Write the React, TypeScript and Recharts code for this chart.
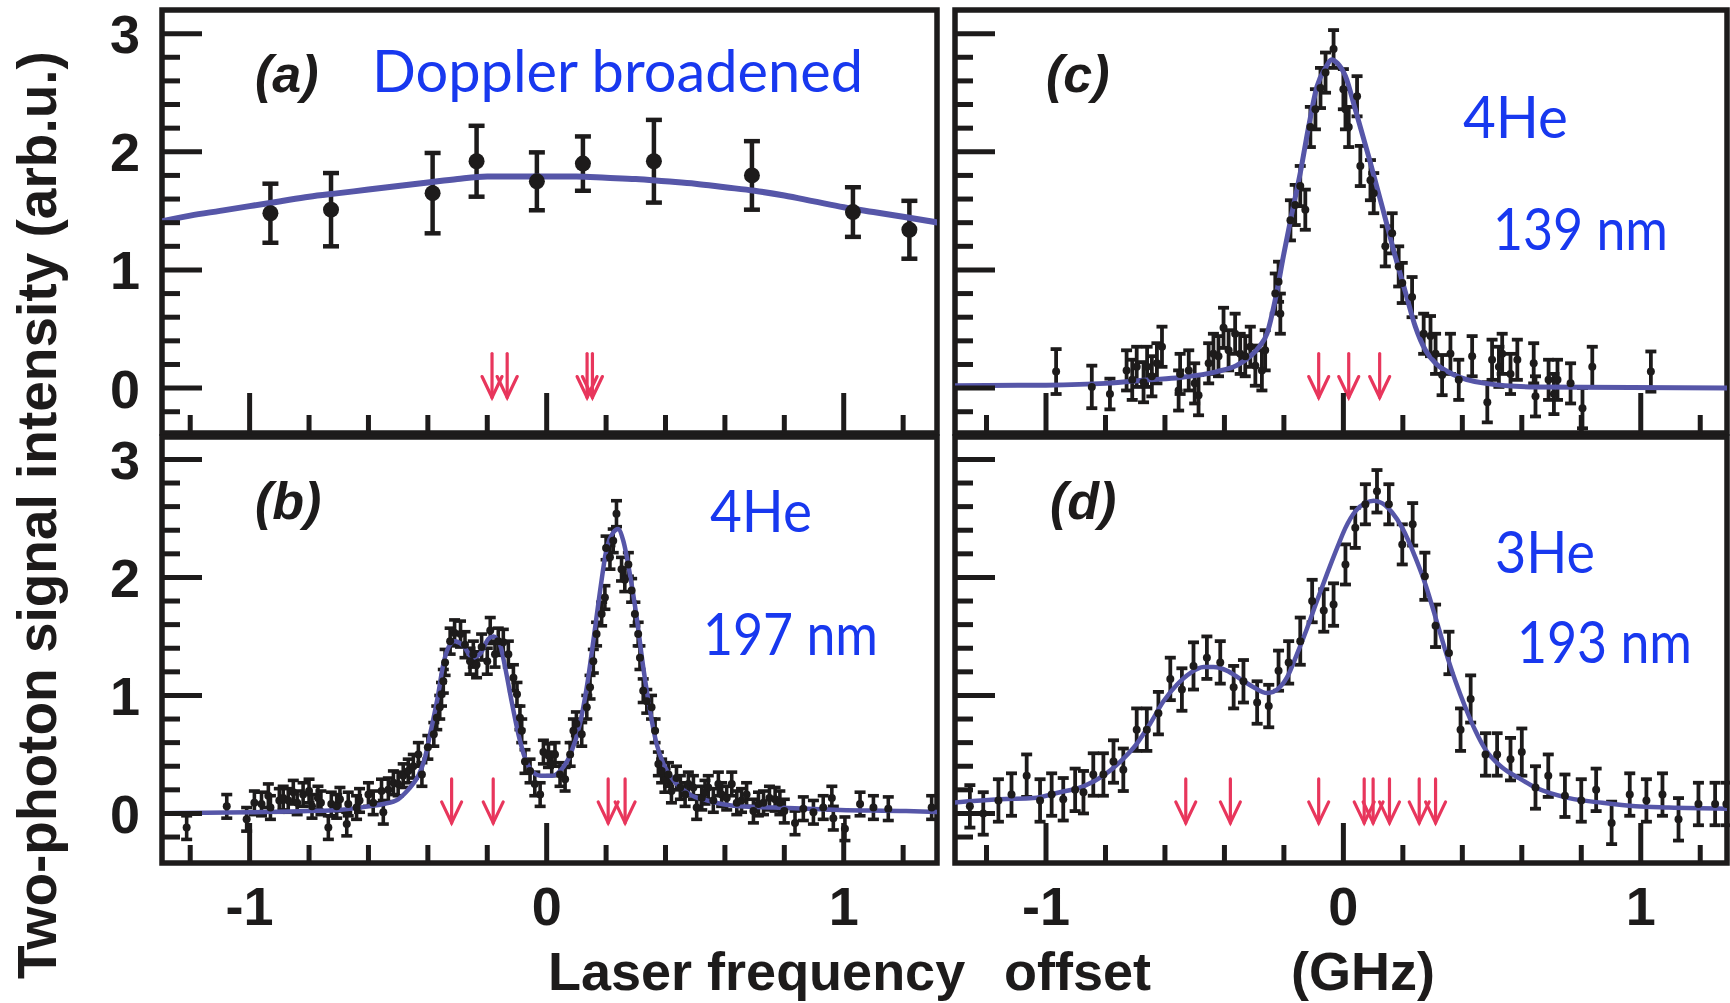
import React from 'react';
import { ComposedChart, Scatter, Line, XAxis, YAxis, ErrorBar, ReferenceArea } from 'recharts';

// ---------- styling constants ----------
const INK = '#1d1b1b';
const FIT = '#5656a8';
const ARROW = '#e8365c';
const BLUE = '#1838ef';
const SANS = '"Liberation Sans", Arial, Helvetica, sans-serif';
const HUMAN = 'Lato, "Open Sans", sans-serif';

// ---------- axes ----------
const xTickValues = [-1.2, -1, -0.8, -0.6, -0.4, -0.2, 0, 0.2, 0.4, 0.6, 0.8, 1, 1.2];
const xTickLabels = ['-1', '0', '1'];
const yTickValues = [-0.2, 0, 0.2, 0.4, 0.6, 0.8, 1, 1.2, 1.4, 1.6, 1.8, 2, 2.2, 2.4, 2.6, 2.8, 3];
const yTickLabels = ['0', '1', '2', '3'];
const ARROW_TIP = -0.08;

// ---------- panel (a): Doppler broadened ----------
const pointsA: [number, number, number][] = [
  [-0.93, 1.48, 0.25], [-0.726, 1.51, 0.31], [-0.384, 1.65, 0.34], [-0.236, 1.92, 0.3],
  [-0.033, 1.75, 0.245], [0.122, 1.9, 0.23], [0.361, 1.92, 0.35], [0.691, 1.8, 0.29],
  [1.031, 1.49, 0.21], [1.221, 1.34, 0.245],
];
const fitA: [number, number][] = [
  [-1.3, 1.41], [-1.2, 1.46], [-1.1, 1.5], [-1.0, 1.54], [-0.9, 1.58], [-0.8, 1.62], [-0.7, 1.65],
  [-0.6, 1.68], [-0.5, 1.71], [-0.4, 1.74], [-0.3, 1.77], [-0.2, 1.79], [-0.1, 1.79], [0, 1.79],
  [0.1, 1.79], [0.2, 1.78], [0.3, 1.77], [0.4, 1.75], [0.5, 1.73], [0.6, 1.7], [0.7, 1.67],
  [0.8, 1.63], [0.9, 1.58], [1.0, 1.53], [1.1, 1.49], [1.2, 1.45], [1.32, 1.4],
];
const arrowsA = [-0.184, -0.133, 0.136, 0.154];

// ---------- panel (b): 4He 197 nm ----------
const pointsB: [number, number, number][] = [
  [-1.212, -0.12, 0.1], [-1.077, 0.06, 0.1], [-1.01, -0.05, 0.1], [-0.984, 0.09, 0.1], [-0.96, 0.08, 0.1],
  [-0.937, 0.15, 0.1], [-0.93, 0.05, 0.1], [-0.9, 0.11, 0.1], [-0.887, 0.13, 0.1], [-0.87, 0.11, 0.1],
  [-0.853, 0.18, 0.1], [-0.84, 0.09, 0.1], [-0.82, 0.16, 0.1], [-0.8, 0.19, 0.1], [-0.79, 0.06, 0.1],
  [-0.77, 0.13, 0.1], [-0.76, 0.09, 0.1], [-0.735, -0.12, 0.1], [-0.725, 0.08, 0.1], [-0.707, 0.06, 0.1],
  [-0.696, 0.12, 0.1], [-0.673, -0.09, 0.1], [-0.668, 0.08, 0.1], [-0.64, 0.05, 0.1], [-0.63, 0.11, 0.1],
  [-0.6, 0.16, 0.1], [-0.584, 0.09, 0.1], [-0.556, 0.19, 0.1], [-0.55, 0.01, 0.1], [-0.533, 0.2, 0.1],
  [-0.516, 0.26, 0.1], [-0.5, 0.25, 0.1], [-0.483, 0.32, 0.1], [-0.466, 0.36, 0.1], [-0.449, 0.4, 0.1],
  [-0.432, 0.5, 0.1], [-0.42, 0.33, 0.1], [-0.4, 0.56, 0.1], [-0.38, 0.67, 0.1], [-0.37, 0.81, 0.1],
  [-0.36, 0.9, 0.1], [-0.354, 1.01, 0.1], [-0.348, 1.12, 0.1], [-0.342, 1.28, 0.11], [-0.325, 1.46, 0.11],
  [-0.31, 1.53, 0.11], [-0.29, 1.52, 0.11], [-0.275, 1.43, 0.11], [-0.258, 1.29, 0.11], [-0.247, 1.35, 0.11],
  [-0.236, 1.26, 0.11], [-0.219, 1.41, 0.11], [-0.2, 1.29, 0.11], [-0.19, 1.55, 0.11], [-0.174, 1.35, 0.11],
  [-0.163, 1.46, 0.11], [-0.146, 1.45, 0.11], [-0.129, 1.35, 0.11], [-0.112, 1.15, 0.11], [-0.1, 1.01, 0.1],
  [-0.09, 0.81, 0.1], [-0.084, 0.7, 0.1], [-0.073, 0.44, 0.1], [-0.056, 0.36, 0.1], [-0.04, 0.25, 0.1],
  [-0.022, 0.16, 0.1], [-0.011, 0.52, 0.1], [0.006, 0.49, 0.1], [0.017, 0.42, 0.1], [0.028, 0.5, 0.1],
  [0.045, 0.33, 0.1], [0.062, 0.29, 0.1], [0.079, 0.5, 0.1], [0.09, 0.7, 0.1], [0.1, 0.76, 0.1],
  [0.118, 0.67, 0.1], [0.135, 0.9, 0.1], [0.146, 1.07, 0.1], [0.157, 1.29, 0.1], [0.168, 1.52, 0.1],
  [0.185, 1.69, 0.1], [0.196, 1.83, 0.1], [0.2, 2.25, 0.1], [0.213, 2.17, 0.1], [0.224, 2.31, 0.1],
  [0.235, 2.54, 0.11], [0.252, 2.07, 0.1], [0.263, 1.98, 0.1], [0.275, 2.11, 0.1], [0.286, 1.89, 0.1],
  [0.297, 1.69, 0.1], [0.308, 1.52, 0.1], [0.314, 1.32, 0.1], [0.325, 1.04, 0.1], [0.337, 0.95, 0.1],
  [0.353, 0.9, 0.1], [0.365, 0.7, 0.1], [0.376, 0.42, 0.1], [0.387, 0.36, 0.1], [0.398, 0.28, 0.1],
  [0.41, 0.33, 0.1], [0.42, 0.19, 0.1], [0.437, 0.3, 0.1], [0.45, 0.22, 0.1], [0.466, 0.16, 0.1],
  [0.477, 0.25, 0.1], [0.494, 0.22, 0.1], [0.505, 0.05, 0.1], [0.522, 0.13, 0.1], [0.533, 0.18, 0.1],
  [0.544, 0.22, 0.1], [0.561, 0.11, 0.1], [0.578, 0.25, 0.1], [0.589, 0.16, 0.1], [0.606, 0.13, 0.1],
  [0.623, 0.25, 0.1], [0.64, 0.09, 0.1], [0.656, 0.11, 0.1], [0.673, 0.16, 0.1], [0.696, 0.02, 0.1],
  [0.713, 0.08, 0.1], [0.73, 0.09, 0.1], [0.75, 0.13, 0.1], [0.769, 0.12, 0.1], [0.785, 0.09, 0.1],
  [0.8, 0.02, 0.1], [0.836, -0.08, 0.1], [0.864, 0.04, 0.1], [0.898, 0.01, 0.1], [0.931, 0.05, 0.1],
  [0.96, 0.13, 0.1], [0.965, -0.04, 0.1], [1.004, -0.13, 0.1], [1.055, 0.08, 0.1], [1.1, 0.05, 0.1],
  [1.15, 0.04, 0.1], [1.296, 0.05, 0.1],
];
const fitB: [number, number][] = [
  [-1.32, 0.0], [-1.0, 0.01], [-0.8, 0.02], [-0.7, 0.03], [-0.6, 0.06], [-0.55, 0.08], [-0.5, 0.12],
  [-0.47, 0.19], [-0.45, 0.25], [-0.43, 0.33], [-0.41, 0.47], [-0.39, 0.7], [-0.365, 1.01], [-0.35, 1.24],
  [-0.33, 1.41], [-0.31, 1.46], [-0.28, 1.42], [-0.25, 1.32], [-0.225, 1.35], [-0.196, 1.48], [-0.18, 1.5],
  [-0.157, 1.43], [-0.14, 1.24], [-0.118, 0.95], [-0.095, 0.67], [-0.073, 0.47], [-0.05, 0.36], [-0.02, 0.32],
  [0.02, 0.32], [0.045, 0.36], [0.08, 0.5], [0.112, 0.76], [0.135, 1.07], [0.157, 1.46], [0.18, 1.89],
  [0.2, 2.22], [0.224, 2.38], [0.24, 2.41], [0.258, 2.31], [0.28, 2.03], [0.303, 1.66], [0.325, 1.24],
  [0.348, 0.87], [0.37, 0.59], [0.393, 0.42], [0.427, 0.28], [0.483, 0.16], [0.539, 0.11], [0.65, 0.06],
  [0.763, 0.05], [0.988, 0.03], [1.21, 0.02], [1.33, 0.01],
];
const arrowsB = [-0.32, -0.18, 0.207, 0.264];

// ---------- panel (c): 4He 139 nm ----------
const pointsC: [number, number, number][] = [
  [-0.966, 0.14, 0.19], [-0.846, 0.01, 0.18], [-0.785, -0.05, 0.13], [-0.729, 0.15, 0.17], [-0.71, 0.07, 0.17],
  [-0.695, 0.18, 0.17], [-0.672, 0.05, 0.17], [-0.66, 0.18, 0.17], [-0.644, 0.1, 0.17], [-0.627, 0.21, 0.17],
  [-0.61, 0.35, 0.17], [-0.554, -0.02, 0.17], [-0.549, 0.12, 0.17], [-0.52, 0.15, 0.17], [-0.5, 0.04, 0.17],
  [-0.487, -0.06, 0.17], [-0.453, 0.21, 0.17], [-0.437, 0.29, 0.17], [-0.42, 0.27, 0.17], [-0.403, 0.51, 0.17],
  [-0.386, 0.32, 0.17], [-0.364, 0.46, 0.17], [-0.347, 0.29, 0.17], [-0.33, 0.27, 0.17], [-0.313, 0.35, 0.17],
  [-0.296, 0.19, 0.17], [-0.274, 0.15, 0.17], [-0.263, 0.32, 0.17], [-0.229, 0.8, 0.17], [-0.218, 0.9, 0.17],
  [-0.212, 0.63, 0.17], [-0.178, 1.42, 0.17], [-0.162, 1.55, 0.17], [-0.145, 1.71, 0.17], [-0.128, 1.51, 0.17],
  [-0.111, 2.21, 0.17], [-0.094, 2.36, 0.17], [-0.077, 2.54, 0.17], [-0.06, 2.67, 0.17], [-0.033, 2.87, 0.16],
  [0.0, 2.53, 0.17], [0.007, 2.36, 0.17], [0.018, 2.21, 0.17], [0.046, 2.47, 0.17], [0.057, 1.88, 0.17],
  [0.091, 1.76, 0.17], [0.102, 1.65, 0.17], [0.141, 1.2, 0.17], [0.164, 1.31, 0.17], [0.186, 1.03, 0.17],
  [0.198, 0.89, 0.17], [0.231, 0.77, 0.17], [0.27, 0.46, 0.17], [0.293, 0.44, 0.17], [0.31, 0.29, 0.17],
  [0.332, 0.11, 0.17], [0.36, 0.29, 0.17], [0.388, 0.07, 0.17], [0.433, 0.27, 0.17], [0.484, -0.12, 0.17],
  [0.5, 0.24, 0.17], [0.523, 0.18, 0.17], [0.534, 0.29, 0.17], [0.562, 0.12, 0.17], [0.585, 0.24, 0.17],
  [0.64, 0.21, 0.17], [0.646, -0.07, 0.17], [0.69, 0.07, 0.17], [0.708, -0.05, 0.17], [0.72, 0.07, 0.17],
  [0.764, 0.04, 0.17], [0.804, -0.17, 0.17], [0.837, 0.18, 0.17], [1.034, 0.14, 0.17],
];
const fitC: [number, number][] = [
  [-1.32, 0.02], [-1.0, 0.025], [-0.8, 0.04], [-0.65, 0.07], [-0.55, 0.09], [-0.425, 0.14], [-0.36, 0.19],
  [-0.313, 0.27], [-0.28, 0.36], [-0.257, 0.46], [-0.229, 0.75], [-0.2, 1.14], [-0.173, 1.48], [-0.145, 1.82],
  [-0.117, 2.21], [-0.089, 2.55], [-0.06, 2.71], [-0.04, 2.78], [-0.02, 2.75], [0.007, 2.64], [0.04, 2.36],
  [0.085, 1.96], [0.13, 1.54], [0.175, 1.11], [0.21, 0.8], [0.242, 0.52], [0.276, 0.32], [0.31, 0.21],
  [0.366, 0.12], [0.478, 0.04], [0.646, 0.01], [1.3, 0.0],
];
const arrowsC = [-0.083, 0.018, 0.122];

// ---------- panel (d): 3He 193 nm ----------
const pointsD: [number, number, number][] = [
  [-1.256, 0.06, 0.18], [-1.211, 0.0, 0.18], [-1.16, 0.11, 0.18], [-1.116, 0.16, 0.18], [-1.065, 0.32, 0.18],
  [-1.02, 0.11, 0.18], [-0.981, 0.16, 0.18], [-0.942, 0.12, 0.18], [-0.902, 0.2, 0.18], [-0.874, 0.18, 0.18],
  [-0.841, 0.33, 0.18], [-0.807, 0.33, 0.18], [-0.773, 0.44, 0.18], [-0.74, 0.37, 0.18], [-0.695, 0.71, 0.18],
  [-0.661, 0.71, 0.18], [-0.622, 0.85, 0.18], [-0.582, 1.14, 0.18], [-0.543, 1.05, 0.18], [-0.504, 1.25, 0.2],
  [-0.459, 1.32, 0.18], [-0.414, 1.28, 0.18], [-0.369, 1.07, 0.18], [-0.336, 1.12, 0.18], [-0.29, 0.94, 0.18],
  [-0.251, 0.91, 0.18], [-0.218, 1.21, 0.17], [-0.184, 1.28, 0.18], [-0.145, 1.46, 0.2], [-0.105, 1.8, 0.18],
  [-0.066, 1.72, 0.18], [-0.033, 1.77, 0.18], [0.007, 2.11, 0.17], [0.04, 2.42, 0.17], [0.074, 2.62, 0.17],
  [0.113, 2.73, 0.18], [0.153, 2.62, 0.17], [0.198, 2.28, 0.17], [0.233, 2.45, 0.18], [0.274, 2.01, 0.2],
  [0.31, 1.59, 0.18], [0.355, 1.36, 0.18], [0.394, 0.71, 0.18], [0.428, 0.97, 0.2], [0.478, 0.5, 0.18],
  [0.517, 0.5, 0.18], [0.562, 0.46, 0.18], [0.6, 0.52, 0.2], [0.646, 0.22, 0.18], [0.689, 0.32, 0.18],
  [0.745, 0.15, 0.18], [0.8, 0.11, 0.18], [0.85, 0.2, 0.18], [0.902, -0.08, 0.18], [0.963, 0.16, 0.18],
  [1.019, 0.11, 0.18], [1.073, 0.16, 0.18], [1.127, -0.05, 0.18], [1.194, 0.08, 0.18], [1.25, 0.08, 0.18],
  [1.288, 0.08, 0.18],
];
const fitD: [number, number][] = [
  [-1.32, 0.09], [-1.155, 0.12], [-1.043, 0.13], [-0.953, 0.18], [-0.874, 0.23], [-0.807, 0.32], [-0.75, 0.44],
  [-0.695, 0.59], [-0.65, 0.76], [-0.605, 0.95], [-0.56, 1.09], [-0.515, 1.19], [-0.47, 1.24], [-0.437, 1.24],
  [-0.392, 1.21], [-0.347, 1.14], [-0.302, 1.07], [-0.257, 1.02], [-0.223, 1.05], [-0.19, 1.15], [-0.156, 1.35],
  [-0.122, 1.57], [-0.089, 1.8], [-0.055, 2.03], [-0.021, 2.25], [0.007, 2.42], [0.04, 2.56], [0.074, 2.63],
  [0.102, 2.65], [0.13, 2.63], [0.164, 2.55], [0.198, 2.42], [0.242, 2.17], [0.276, 1.94], [0.31, 1.66],
  [0.343, 1.38], [0.377, 1.12], [0.41, 0.9], [0.444, 0.7], [0.478, 0.54], [0.534, 0.39], [0.59, 0.3],
  [0.646, 0.22], [0.759, 0.13], [0.871, 0.09], [0.983, 0.06], [1.095, 0.05], [1.3, 0.04],
];
const arrowsD = [-0.53, -0.38, -0.083, 0.07, 0.1, 0.155, 0.255, 0.31];

// ---------- tick renderers ----------
const isMajor = (v: number) => Math.abs(v - Math.round(v)) < 1e-6;

function makeYTick(showLabels: boolean) {
  return (props: any) => {
    const { x, y, payload } = props;
    const v = payload.value as number;
    const major = isMajor(v);
    const len = major ? 40 : 18;
    return (
      <g>
        <line x1={x} y1={y} x2={x + len} y2={y} stroke={INK} strokeWidth={5} />
        {showLabels && major && v >= 0 ? (
          <text x={x - 22} y={y} dy="0.36em" textAnchor="end" fontFamily={SANS} fontWeight="bold" fontSize={54} fill={INK}>
            {yTickLabels[Math.round(v)]}
          </text>
        ) : null}
      </g>
    );
  };
}

function makeXTick(showLabels: boolean) {
  return (props: any) => {
    const { x, y, payload } = props;
    const v = payload.value as number;
    const major = isMajor(v);
    const len = major ? 40 : 18;
    return (
      <g>
        <line x1={x} y1={y} x2={x} y2={y - len} stroke={INK} strokeWidth={5} />
        {showLabels && major ? (
          <text x={x} y={y + 62} textAnchor="middle" fontFamily={SANS} fontWeight="bold" fontSize={54} fill={INK}>
            {xTickLabels[Math.round(v) + 1]}
          </text>
        ) : null}
      </g>
    );
  };
}

const dotShape = (r: number) => (p: any) => <circle cx={p.cx} cy={p.cy} r={r} fill={INK} />;

const arrowShape = (p: any) => {
  const { cx, cy } = p;
  return (
    <g stroke={ARROW} strokeWidth={3.2} fill="none" strokeLinecap="round" strokeLinejoin="miter">
      <line x1={cx} y1={cy - 44} x2={cx} y2={cy} />
      <polyline points={`${cx - 10},${cy - 21} ${cx},${cy} ${cx + 10},${cy - 21}`} />
    </g>
  );
};

type PanelProps = {
  left: number; top: number; width: number; height: number;
  margin: { top: number; right: number; bottom: number; left: number };
  yAxisWidth: number; xAxisHeight: number;
  xDomain: [number, number]; yDomain: [number, number];
  points: [number, number, number][]; fit: [number, number][]; arrows: number[];
  dotR: number; capW: number; barW: number; fitW: number;
  showXLabels: boolean; showYLabels: boolean;
};

function Panel(p: PanelProps) {
  const pts = p.points.map(([x, y, e]) => ({ x, y, e }));
  const fit = p.fit.map(([x, y]) => ({ x, y }));
  const arr = p.arrows.map((x) => ({ x, y: ARROW_TIP }));
  return (
    <div style={{ position: 'absolute', left: p.left, top: p.top }}>
      <ComposedChart width={p.width} height={p.height} margin={p.margin}>
        <XAxis
          type="number" dataKey="x" domain={p.xDomain} allowDataOverflow ticks={xTickValues} interval={0}
          tickSize={0} tickMargin={0} axisLine={false} tickLine={false} height={p.xAxisHeight}
          tick={makeXTick(p.showXLabels)}
        />
        <YAxis
          type="number" domain={p.yDomain} allowDataOverflow ticks={yTickValues} interval={0}
          tickSize={0} tickMargin={0} axisLine={false} tickLine={false} width={p.yAxisWidth}
          tick={makeYTick(p.showYLabels)}
        />
        <ReferenceArea
          x1={p.xDomain[0]} x2={p.xDomain[1]} y1={p.yDomain[0]} y2={p.yDomain[1]}
          fill="none" fillOpacity={0} stroke={INK} strokeWidth={5.5}
        />
        <Scatter data={pts} dataKey="y" shape={dotShape(p.dotR)} isAnimationActive={false}>
          <ErrorBar dataKey="e" direction="y" width={p.capW} strokeWidth={p.barW} stroke={INK} />
        </Scatter>
        <Line
          data={fit} dataKey="y" type="monotone" stroke={FIT} strokeWidth={p.fitW}
          dot={false} activeDot={false} isAnimationActive={false}
        />
        <Scatter data={arr} dataKey="y" shape={arrowShape} isAnimationActive={false} />
      </ComposedChart>
    </div>
  );
}

const blueText = { fontFamily: HUMAN, fontSize: 58, fill: BLUE } as const;
const panelLabel = { fontFamily: SANS, fontSize: 52, fontWeight: 'bold', fontStyle: 'italic', fill: INK } as const;
const axisTitle = { fontFamily: SANS, fontSize: 54, fontWeight: 'bold', fill: INK } as const;

export default function App() {
  return (
    <div style={{ position: 'absolute', left: 0, top: 0, width: 1730, height: 1003, background: '#fff', overflow: 'hidden' }}>
      <Panel
        left={0} top={0} width={945} height={440} margin={{ top: 10, right: 8, bottom: 0, left: 0 }}
        yAxisWidth={162} xAxisHeight={7} xDomain={[-1.295, 1.314]} yDomain={[-0.38, 3.2]}
        points={pointsA} fit={fitA} arrows={arrowsA} dotR={8} capW={8} barW={4.5} fitW={6}
        showXLabels={false} showYLabels={true}
      />
      <Panel
        left={945} top={0} width={785} height={440} margin={{ top: 10, right: 3, bottom: 0, left: 0 }}
        yAxisWidth={10} xAxisHeight={7} xDomain={[-1.306, 1.29]} yDomain={[-0.38, 3.2]}
        points={pointsC} fit={fitC} arrows={arrowsC} dotR={4} capW={5.5} barW={3.8} fitW={5}
        showXLabels={false} showYLabels={false}
      />
      <Panel
        left={0} top={430} width={945} height={573} margin={{ top: 7, right: 8, bottom: 0, left: 0 }}
        yAxisWidth={162} xAxisHeight={140} xDomain={[-1.295, 1.314]} yDomain={[-0.42, 3.19]}
        points={pointsB} fit={fitB} arrows={arrowsB} dotR={4} capW={5.5} barW={3.6} fitW={4.5}
        showXLabels={true} showYLabels={true}
      />
      <Panel
        left={945} top={430} width={785} height={573} margin={{ top: 7, right: 3, bottom: 0, left: 0 }}
        yAxisWidth={10} xAxisHeight={140} xDomain={[-1.306, 1.29]} yDomain={[-0.42, 3.19]}
        points={pointsD} fit={fitD} arrows={arrowsD} dotR={4} capW={5.5} barW={3.8} fitW={4.5}
        showXLabels={true} showYLabels={false}
      />
      <svg width={1730} height={1003} style={{ position: 'absolute', left: 0, top: 0, pointerEvents: 'none' }}>
        <text transform="translate(56,515) rotate(-90)" textAnchor="middle" {...axisTitle} fontSize={55}>
          Two-photon signal intensity (arb.u.)
        </text>
        <text x={548} y={990} {...axisTitle}>Laser frequency</text>
        <text x={1004} y={990} {...axisTitle}>offset</text>
        <text x={1291} y={990} {...axisTitle}>(GHz)</text>

        <text x={255} y={92} {...panelLabel}>(a)</text>
        <text x={1046} y={92} {...panelLabel}>(c)</text>
        <text x={255} y={519} {...panelLabel}>(b)</text>
        <text x={1050} y={519} {...panelLabel}>(d)</text>

        <text x={372} y={92} {...blueText} textLength={491} lengthAdjust="spacingAndGlyphs">Doppler broadened</text>
        <text x={1463} y={138} {...blueText} textLength={105} lengthAdjust="spacingAndGlyphs">4He</text>
        <text x={1493} y={250} {...blueText} textLength={175} lengthAdjust="spacingAndGlyphs">139 nm</text>
        <text x={710} y={532} {...blueText} textLength={102} lengthAdjust="spacingAndGlyphs">4He</text>
        <text x={703} y={655} {...blueText} textLength={175} lengthAdjust="spacingAndGlyphs">197 nm</text>
        <text x={1495} y={573} {...blueText} textLength={100} lengthAdjust="spacingAndGlyphs">3He</text>
        <text x={1517} y={663} {...blueText} textLength={175} lengthAdjust="spacingAndGlyphs">193 nm</text>
      </svg>
    </div>
  );
}
